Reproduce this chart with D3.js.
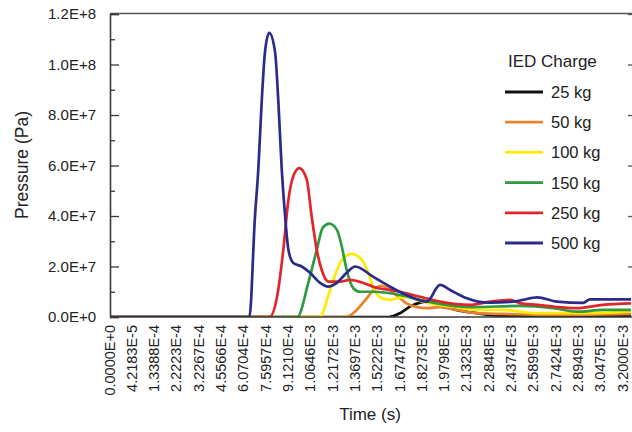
<!DOCTYPE html>
<html>
<head>
<meta charset="utf-8">
<script src="https://cdn.jsdelivr.net/npm/d3@7/dist/d3.min.js"></script>
<style>
  html, body { margin: 0; padding: 0; background: #fff; }
  svg { display: block; font-family: "Liberation Sans", Arial, Helvetica, sans-serif; }
</style>
</head>
<body>
<svg id="chart" width="632" height="432"></svg>
<script>
// ---- data (x in tick-index units of the category time axis, y in Pa) ----
const xTickLabels = ["0.0000E+0","4.2183E-5","1.3388E-4","2.2223E-4","3.2267E-4","4.5566E-4",
  "6.0704E-4","7.5957E-4","9.1210E-4","1.0646E-3","1.2172E-3","1.3697E-3","1.5222E-3",
  "1.6747E-3","1.8273E-3","1.9798E-3","2.1323E-3","2.2848E-3","2.4374E-3","2.5899E-3",
  "2.7424E-3","2.8949E-3","3.0475E-3","3.2000E-3"];
const yTickValues = [0, 2e7, 4e7, 6e7, 8e7, 1e8, 1.2e8];
const yTickLabels = ["0.0E+0","2.0E+7","4.0E+7","6.0E+7","8.0E+7","1.0E+8","1.2E+8"];
const seriesNames = ["25 kg","50 kg","100 kg","150 kg","250 kg","500 kg"];
const seriesColors = ["#111111","#e8832c","#ffea00","#2f9a3f","#e1262b","#2c2a8a"];

const kg25 = [[0,0],[12.5,0],[13.0,1.5e6],[13.45,4.1e6],[13.9,5.7e6],[14.35,6.4e6],[14.8,4.8e6],
  [15.38,3.1e6],[16.28,1.7e6],[17.04,0.8e6],[17.94,0.4e6],[23.36,0.4e6]];
const kg50 = [[0,0],[10.6,0],[11.06,2.8e6],[11.51,7.4e6],[11.81,1.07e7],[12.18,1.23e7],[12.56,1.07e7],
  [12.93,8.0e6],[13.3,5.4e6],[13.75,3.9e6],[14.2,3.5e6],[14.8,3.9e6],[15.55,2.8e6],[16.44,1.5e6],
  [17.62,1.2e6],[19.87,0.8e6],[23.36,1.2e6]];
const kg100 = [[0,0],[9.4,0],[9.87,1.07e7],[10.24,2.0e7],[10.54,2.4e7],[10.85,2.5e7],[11.13,2.4e7],
  [11.35,2.2e7],[11.58,1.74e7],[11.79,1.2e7],[12.18,7.4e6],[12.56,6.8e6],[12.86,7.4e6],[13.3,8.0e6],
  [13.75,6.8e6],[14.35,5.4e6],[15.55,3.9e6],[16.44,2.8e6],[17.62,2.8e6],[18.39,2.1e6],[19.15,1.5e6],
  [21.08,1.5e6],[23.36,2.1e6]];
const kg150 = [[0,0],[8.4,0],[8.89,1.35e7],[9.27,2.66e7],[9.54,3.54e7],[9.83,3.7e7],[10.17,3.46e7],
  [10.39,2.8e7],[10.61,1.87e7],[10.91,1.14e7],[11.21,1.0e7],[11.79,1.0e7],[13.0,8.7e6],[13.9,6.8e6],
  [14.48,5.7e6],[16.28,3.9e6],[18.39,4.4e6],[19.87,3.5e6],[20.94,2.1e6],[22.1,2.8e6],[23.36,2.8e6]];
const kg250 = [[0,0],[7.15,0],[7.53,1.0e7],[7.77,2.66e7],[8.0,4.65e7],[8.22,5.58e7],[8.49,5.9e7],
  [8.82,5.45e7],[9.04,4.0e7],[9.27,2.66e7],[9.49,1.87e7],[9.79,1.4e7],[10.31,1.4e7],[10.76,1.47e7],
  [11.35,1.35e7],[11.79,1.2e7],[13.0,1.0e7],[13.9,8.0e6],[14.8,6.1e6],[16.14,4.8e6],[17.04,6.1e6],
  [17.94,6.8e6],[18.39,5.4e6],[19.15,4.8e6],[19.87,4.1e6],[20.94,3.5e6],[22.1,4.8e6],[23.36,5.4e6]];
const kg500 = [[0,0],[6.25,0],[6.5,3.98e7],[6.65,5.85e7],[6.8,8.5e7],[6.95,1.05e8],[7.14,1.125e8],
  [7.4,1.05e8],[7.55,8.5e7],[7.7,5.85e7],[7.85,4.0e7],[8.0,2.66e7],[8.21,2.15e7],[8.6,2.0e7],
  [8.97,1.75e7],[9.42,1.35e7],[9.78,1.2e7],[10.17,1.35e7],[10.61,1.75e7],[10.99,2.0e7],[11.79,1.6e7],
  [12.56,1.2e7],[13.3,8.7e6],[14.2,6.1e6],[14.8,1.27e7],[15.25,1.07e7],[16.0,7.4e6],[16.5,6.1e6],
  [17.04,5.7e6],[18.07,6.1e6],[18.52,6.8e6],[19.15,7.8e6],[20.04,6.1e6],[21.21,5.6e6],[21.52,7.0e6],
  [23.36,7.0e6]];
const seriesData = [kg25, kg50, kg100, kg150, kg250, kg500];

// ---- layout ----
const svg = d3.select("#chart");
const pLeft = 110, pRight = 631, pTop = 14, pBottom = 317;
const x = d3.scaleLinear().domain([0, 23.36]).range([pLeft, pRight]);
const y = d3.scaleLinear().domain([0, 1.2e8]).range([pBottom, pTop]);
const axisColor = "#3a3a3a";

svg.append("defs").append("clipPath").attr("id", "clip")
  .append("rect").attr("x", pLeft).attr("y", pTop - 2).attr("width", pRight - pLeft + 2).attr("height", pBottom - pTop + 2);

// top border
svg.append("line").attr("x1", pLeft).attr("x2", 632).attr("y1", pTop - 0.5).attr("y2", pTop - 0.5)
  .attr("stroke", "#555").attr("stroke-width", 1.6);

// lines
const line = d3.line().x(d => x(d[0])).y(d => y(d[1])).curve(d3.curveMonotoneX);
const gLines = svg.append("g").attr("clip-path", "url(#clip)");
seriesData.forEach((s, i) => {
  gLines.append("path").datum(s).attr("d", line)
    .attr("fill", "none").attr("stroke", seriesColors[i]).attr("stroke-width", 2.7)
    .attr("stroke-linejoin", "round");
});

// left axis: major and minor inward ticks
const minorVals = d3.range(1e7, 1.2e8, 2e7);
const gYminor = svg.append("g").attr("transform", `translate(${pLeft},0)`)
  .call(d3.axisRight(y).tickValues(minorVals).tickSize(5).tickFormat(""));
gYminor.select(".domain").remove();
gYminor.selectAll("line").attr("stroke", axisColor).attr("stroke-width", 1.3);

const gY = svg.append("g").attr("transform", `translate(${pLeft},0)`)
  .call(d3.axisLeft(y).tickValues(yTickValues).tickSize(-9).tickPadding(14)
    .tickFormat((d, i) => yTickLabels[i]));
gY.select(".domain").attr("stroke", axisColor).attr("stroke-width", 1.6);
gY.selectAll(".tick line").attr("stroke", axisColor).attr("stroke-width", 1.3);
gY.selectAll("text").attr("font-size", 15).attr("fill", "#222")
  .attr("font-family", "'Liberation Sans', Arial, sans-serif");

// right side inward ticks
const gR = svg.append("g").attr("transform", `translate(633,0)`)
  .call(d3.axisLeft(y).tickValues(yTickValues.slice(1)).tickSize(5).tickFormat(""));
gR.select(".domain").remove();
gR.selectAll("line").attr("stroke", "#555").attr("stroke-width", 1.3);

// bottom axis
const gX = svg.append("g").attr("transform", `translate(0,${pBottom})`)
  .call(d3.axisBottom(x).tickValues(d3.range(xTickLabels.length)).tickSize(0)
    .tickFormat(i => xTickLabels[i]));
gX.select(".domain").attr("stroke", axisColor).attr("stroke-width", 1.6)
  .attr("d", `M${pLeft},0H632`);
gX.selectAll("text")
  .attr("font-size", 14.5).attr("fill", "#222")
  .attr("font-family", "'Liberation Sans', Arial, sans-serif")
  .attr("text-anchor", "end")
  .attr("transform", "rotate(-90)")
  .attr("x", -8).attr("y", -1).attr("dy", "0.35em");

// axis titles
svg.append("text").attr("x", 370).attr("y", 420).attr("text-anchor", "middle")
  .attr("font-size", 17).attr("fill", "#222").text("Time (s)");
svg.append("text").attr("transform", "translate(28,165) rotate(-90)").attr("text-anchor", "middle")
  .attr("font-size", 17.5).attr("fill", "#222").text("Pressure (Pa)");

// legend
const lg = svg.append("g");
lg.append("text").attr("x", 508).attr("y", 67).attr("font-size", 17).attr("fill", "#222").text("IED Charge");
seriesNames.forEach((n, i) => {
  const yy = 92 + i * 30.2;
  lg.append("line").attr("x1", 505).attr("x2", 543).attr("y1", yy).attr("y2", yy)
    .attr("stroke", seriesColors[i]).attr("stroke-width", 2.8);
  lg.append("text").attr("x", 551).attr("y", yy + 6).attr("font-size", 16.5).attr("fill", "#222").text(n);
});
</script>
</body>
</html>
